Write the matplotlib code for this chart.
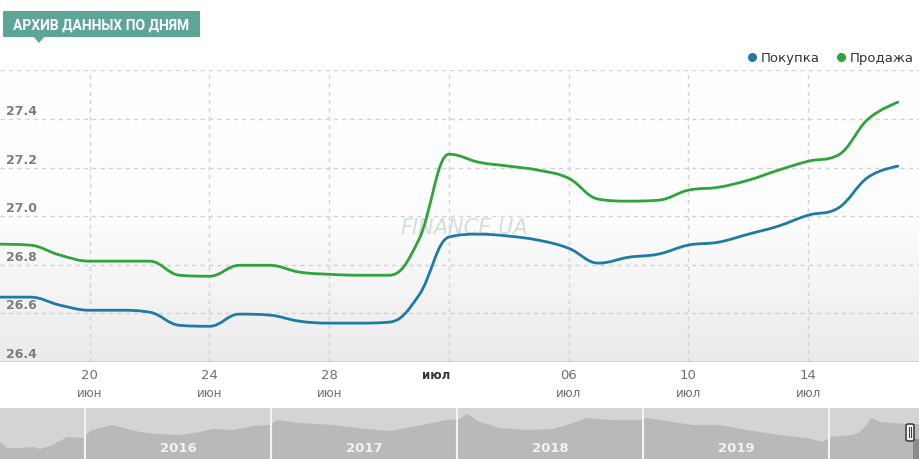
import matplotlib
matplotlib.use("Agg")
import matplotlib.pyplot as plt
from matplotlib.path import Path
from matplotlib.patches import PathPatch, Rectangle, Polygon, FancyBboxPatch
import numpy as np

# main series (daily points, 17 Jun .. 17 Jul)
buy = [26.667, 26.667, 26.634, 26.613, 26.613, 26.605, 26.551, 26.547, 26.597, 26.593,
       26.568, 26.560, 26.560, 26.564, 26.675, 26.914, 26.926, 26.918, 26.901, 26.868,
       26.807, 26.831, 26.844, 26.881, 26.893, 26.926, 26.959, 27.004, 27.033, 27.160,
       27.206]
sell = [26.885, 26.881, 26.840, 26.815, 26.815, 26.815, 26.757, 26.753, 26.798, 26.798,
        26.770, 26.761, 26.757, 26.757, 26.905, 27.255, 27.222, 27.206, 27.189, 27.156,
        27.070, 27.062, 27.066, 27.107, 27.119, 27.148, 27.189, 27.226, 27.251, 27.399,
        27.469]
tick_idx = [3, 7, 11, 15, 19, 23, 27]
tick_day = ["20", "24", "28", "", "06", "10", "14"]
tick_mon = ["июн", "июн", "июн", "июл", "июл", "июл", "июл"]
y_ticks = [26.4, 26.6, 26.8, 27.0, 27.2, 27.4]

# navigator (long history of the buy rate)
nav_year = [2015.543, 2015.581, 2015.651, 2015.720, 2015.758, 2015.812, 2015.866, 2015.903,
            2015.989, 2016.027, 2016.081, 2016.151, 2016.226, 2016.296, 2016.387, 2016.511,
            2016.618, 2016.688, 2016.796, 2016.903, 2016.995, 2017.032, 2017.156, 2017.333,
            2017.516, 2017.640, 2017.785, 2017.946, 2018.016, 2018.054, 2018.124, 2018.231,
            2018.376, 2018.516, 2018.608, 2018.699, 2018.823, 2018.984, 2019.022, 2019.161,
            2019.269, 2019.414, 2019.559, 2019.737, 2019.882, 2019.968, 2020.005, 2020.129,
            2020.167, 2020.231, 2020.274, 2020.344, 2020.419, 2020.49]
nav_rate = [23.4, 22.2, 22.2, 22.4, 22.0, 22.6, 23.6, 24.4, 24.2, 25.6, 26.2, 26.8, 26.0,
            25.4, 25.0, 24.8, 25.4, 26.0, 25.8, 26.6, 26.8, 27.8, 27.2, 26.8, 26.0, 25.6,
            26.6, 27.8, 28.0, 29.0, 27.4, 26.2, 25.8, 26.0, 27.0, 28.2, 27.8, 27.8, 28.2,
            27.4, 26.8, 26.8, 25.8, 24.8, 24.2, 23.4, 24.4, 24.8, 25.4, 28.2, 27.4, 27.2,
            27.0, 27.0]
nav_years = [2016, 2017, 2018, 2019]

BLUE = "#1f7ba6"
GREEN = "#2fa33c"
W, H = 920, 460


def px(x, y):
    return x / W, 1 - y / H


def spline(xs, ys, sm=1.5):
    n = len(xs)
    lc, rc = [None] * n, [None] * n
    for i in range(n):
        if i == 0 or i == n - 1:
            lc[i] = rc[i] = (xs[i], ys[i])
            continue
        x0, y0, x, y, x1, y1 = xs[i-1], ys[i-1], xs[i], ys[i], xs[i+1], ys[i+1]
        lx, ly = (sm * x + x0) / (sm + 1), (sm * y + y0) / (sm + 1)
        rx, ry = (sm * x + x1) / (sm + 1), (sm * y + y1) / (sm + 1)
        corr = (ry - ly) * (rx - x) / (rx - lx) + y - ry
        ly += corr
        ry += corr
        if ly > max(y0, y):
            ly = max(y0, y); ry = 2 * y - ly
        elif ly < min(y0, y):
            ly = min(y0, y); ry = 2 * y - ly
        if ry > max(y1, y):
            ry = max(y1, y); ly = 2 * y - ry
        elif ry < min(y1, y):
            ry = min(y1, y); ly = 2 * y - ry
        lc[i], rc[i] = (lx, ly), (rx, ry)
    verts = [(xs[0], ys[0])]
    codes = [Path.MOVETO]
    for i in range(1, n):
        verts += [rc[i-1], lc[i], (xs[i], ys[i])]
        codes += [Path.CURVE4] * 3
    return Path(verts, codes)


fig = plt.figure(figsize=(9.2, 4.6), dpi=100)

# ---- main chart
ax = fig.add_axes([0, 1 - 363 / H, 1, (363 - 71.4) / H])
ax.set_xlim(0, 30.74)
ax.set_ylim(26.4, 27.6)
ax.axis("off")

grad = np.linspace(0, 1, 256).reshape(-1, 1)
ax.imshow(grad, extent=[0, 30.74, 26.4, 27.6], aspect="auto", origin="upper",
          cmap=matplotlib.colors.LinearSegmentedColormap.from_list("g", ["#ffffff", "#fdfdfd", "#ebebeb"]),
          zorder=0)

for v in [26.6, 26.8, 27.0, 27.2, 27.4, 27.6]:
    ax.axhline(v, color="#d2d2d2", lw=1, dashes=(3, 3), zorder=1)
for t in tick_idx:
    ax.axvline(t, color="#d2d2d2", lw=1, dashes=(3, 3), zorder=1)
ax.axhline(26.4, color="#cccccc", lw=1.2, zorder=1)

for v in y_ticks:
    ax.annotate(f"{v:.1f}", (0, v), xytext=(4, 1.5), textcoords="offset points",
                ha="left", va="bottom", fontsize=9, color="#7d7d7d", fontweight="bold")

for t, d, m in zip(tick_idx, tick_day, tick_mon):
    if d:
        ax.annotate(d, (t, 26.4), xytext=(0, -9), textcoords="offset points",
                    ha="center", va="center", fontsize=9.5, color="#707070")
        ax.annotate(m, (t, 26.4), xytext=(0, -22), textcoords="offset points",
                    ha="center", va="center", fontsize=8.5, color="#707070")
    else:
        ax.annotate(m, (t, 26.4), xytext=(-9, -9), textcoords="offset points",
                    ha="center", va="center", fontsize=8.5, color="#333333",
                    fontweight="bold")

ax.text(15.5, 26.955, "FINANCE.UA", ha="center", va="center", fontsize=15,
        style="italic", color="#d2e0dc", zorder=2)

xs = np.arange(len(buy))
ax.add_patch(PathPatch(spline(xs, sell), fill=False, edgecolor=GREEN, lw=2.0,
                       capstyle="round", joinstyle="round", zorder=4))
ax.add_patch(PathPatch(spline(xs, buy), fill=False, edgecolor=BLUE, lw=2.0,
                       capstyle="round", joinstyle="round", zorder=4))

# ---- title banner
x0, y0 = px(3, 38)
fig.patches.append(Rectangle((x0, y0), 197 / W, 26 / H, transform=fig.transFigure,
                             facecolor="#5ca597", edgecolor="none"))
fig.patches.append(Polygon([px(33, 37), px(45, 37), px(39, 44)], closed=True,
                           transform=fig.transFigure, facecolor="#5ca597", edgecolor="none"))
fig.text(*px(101, 25.5), "АРХИВ ДАННЫХ ПО ДНЯМ", ha="center", va="center",
         fontsize=10, color="white", fontweight="bold", family="Roboto")

# ---- legend
for cx, col, lab in [(752, BLUE, "Покупка"), (841, GREEN, "Продажа")]:
    fig.lines.append(plt.Line2D([cx / W], [1 - 58 / H], transform=fig.transFigure,
                                marker="o", markersize=5.5, color=col, lw=0))
    fig.text(*px(cx + 9, 58.5), lab, ha="left", va="center", fontsize=9.5, color="#333333")

# ---- navigator
nav = fig.add_axes([0, 0, 1, 51 / H])
nav.set_xlim(2015.543, 2020.49)
nav.set_ylim(20, 30.2)
nav.axis("off")
nav.add_patch(Rectangle((2015.543, 20), 5, 10.2, facecolor="#d4d4d4", edgecolor="none", zorder=0))
nav.fill_between(nav_year, 20, nav_rate, color="#b9b9b9", lw=0, zorder=1)
for yr in nav_years + [2020]:
    nav.axvline(yr, color="#f4f4f4", lw=1.5, zorder=2)
for yr in nav_years:
    nav.text(yr + 0.5, 22.2, str(yr), ha="center", va="center", fontsize=9.5,
             color="#f2f2f2", fontweight="bold", zorder=3)

fig.patches.append(Rectangle(px(913, 460), 7 / W, 20 / H, transform=fig.transFigure,
                             facecolor="#8a8a8a", edgecolor="none"))
hx, hy = px(906, 442)
fig.patches.append(FancyBboxPatch((hx, hy), 8 / W, 17 / H, boxstyle="round,pad=0,rounding_size=0.003",
                                  transform=fig.transFigure, facecolor="#f4f4f4",
                                  edgecolor="#444444", lw=1.2))
for lx in (909, 911.5):
    fig.lines.append(plt.Line2D([lx / W, lx / W], [1 - 438 / H, 1 - 428 / H],
                                transform=fig.transFigure, color="#444444", lw=0.8))

fig.savefig("out.png", dpi=100)
